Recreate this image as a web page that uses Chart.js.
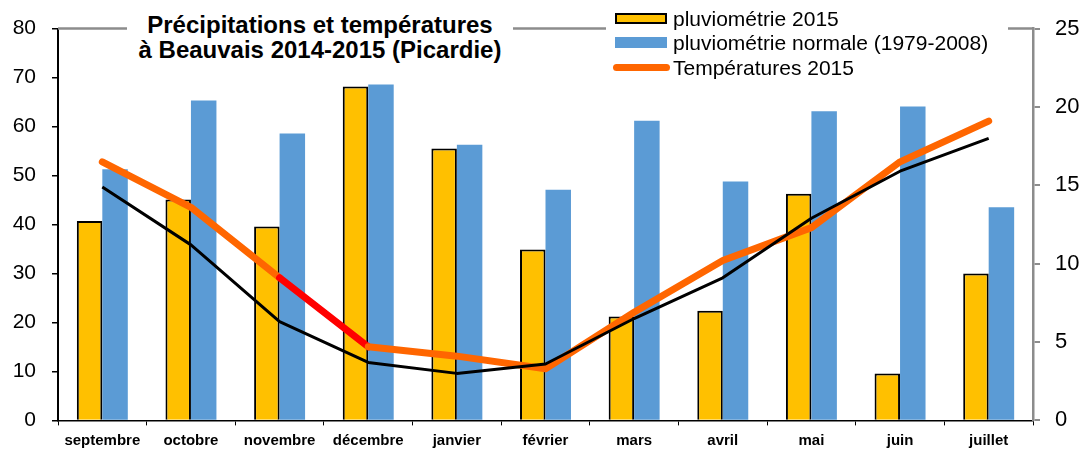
<!DOCTYPE html>
<html lang="fr">
<head>
<meta charset="utf-8">
<title>Précipitations et températures à Beauvais 2014-2015</title>
<script src="https://cdn.jsdelivr.net/npm/chart.js@4.4.1/dist/chart.umd.min.js"></script>
<style>
  html, body { margin: 0; padding: 0; background: #fff; }
  #wrap { position: relative; width: 1082px; height: 449px; font-family: Arial, "Liberation Sans", sans-serif; }
  #wrap canvas { position: absolute; left: 0; top: 0; }
  #title {
    position: absolute; left: 127px; top: 0; width: 386px; height: 64px;
    background: #fff; text-align: center; font-weight: bold; font-size: 24px;
    line-height: 25px; padding-top: 12px; box-sizing: border-box; color: #000;
  }
  #legend {
    position: absolute; left: 606px; top: 8px; width: 402px; height: 80px;
    background: #fff; font-size: 21px; color: #000;
  }
  .row { position: absolute; left: 0; height: 24px; line-height: 24px; white-space: nowrap; }
  .row span.sym { position: absolute; box-sizing: border-box; }
  .row span.txt { position: absolute; left: 67px; top: 0; }
</style>
</head>
<body>
<div id="wrap">
  <canvas id="chart" width="1082" height="449"></canvas>
  <div id="title">Précipitations et températures<br>à Beauvais 2014-2015 (Picardie)</div>
  <div id="legend"></div>
</div>
<script>
'use strict';

// ── Data ───────────────────────────────────────────────────────────────────
const MONTHS = ['septembre', 'octobre', 'novembre', 'décembre', 'janvier', 'février',
                'mars', 'avril', 'mai', 'juin', 'juillet'];

const RAIN_2015   = [40.7, 45.1, 39.6, 68.2, 55.5, 34.9, 21.2, 22.4, 46.3, 9.6, 30.0];
const RAIN_NORMAL = [51.3, 65.3, 58.6, 68.6, 56.3, 47.1, 61.2, 48.8, 63.1, 64.1, 43.5];
const TEMP_2015   = [16.5, 13.6, 9.1, 4.7, 4.1, 3.3, 6.9, 10.2, 12.3, 16.5, 19.1];
const TEMP_NORMAL = [14.9, 11.2, 6.3, 3.7, 3.0, 3.6, 6.5, 9.1, 12.9, 15.9, 18.0];

const SERIES = ['pluviométrie 2015', 'pluviométrie normale (1979-2008)', 'Températures 2015'];

const RAIN_TICKS = [0, 80, 10];   // min, max, step
const TEMP_TICKS = [0, 25, 5];

// ── Colours ────────────────────────────────────────────────────────────────
const C = {
  yellow: '#FFC000', blue: '#5B9BD5', orange: '#FF6600',
  red: '#FF0000', black: '#000000', grey: '#8C8C8C',
};
const FONT = 'Arial, "Liberation Sans", sans-serif';

// ── Top border (broken by the title / legend boxes) ────────────────────────
const topBorder = {
  id: 'topBorder',
  afterDraw(chart) {
    const { ctx, chartArea: a } = chart;
    ctx.save();
    ctx.strokeStyle = C.grey;
    ctx.lineWidth = 2.5;
    ctx.beginPath();
    ctx.moveTo(a.left, a.top);
    ctx.lineTo(a.right, a.top);
    ctx.stroke();
    ctx.restore();
  },
};

// ── Chart ──────────────────────────────────────────────────────────────────
const chart = new Chart(document.getElementById('chart'), {
  type: 'bar',
  data: {
    labels: MONTHS,
    datasets: [
      {
        type: 'line', label: 'normale', data: TEMP_NORMAL, yAxisID: 'yT', order: 0,
        borderColor: C.black, borderWidth: 3, pointRadius: 0, tension: 0,
        borderJoinStyle: 'round',
      },
      {
        type: 'line', label: SERIES[2], data: TEMP_2015, yAxisID: 'yT', order: 1,
        borderColor: C.orange, borderWidth: 7, pointRadius: 0, tension: 0,
        borderCapStyle: 'round', borderJoinStyle: 'round',
        segment: { borderColor: ctx => ctx.p0DataIndex === 2 ? C.red : C.orange },
      },
      {
        label: SERIES[0], data: RAIN_2015, yAxisID: 'yR', order: 2,
        backgroundColor: C.yellow, borderColor: C.black, borderWidth: 2,
        barPercentage: 1, categoryPercentage: 0.575,
      },
      {
        label: SERIES[1], data: RAIN_NORMAL, yAxisID: 'yR', order: 3,
        backgroundColor: C.blue, borderWidth: 0,
        barPercentage: 1, categoryPercentage: 0.575,
      },
    ],
  },
  options: {
    responsive: false,
    animation: false,
    layout: { padding: { top: 28, left: 0, right: 0, bottom: 0 } },
    plugins: { legend: { display: false }, title: { display: false }, tooltip: { enabled: false } },
    scales: {
      x: {
        afterFit: s => { s.height = 28; },
        grid: { display: true, drawOnChartArea: false, offset: true, tickLength: 5, color: C.black, lineWidth: 1 },
        border: { color: C.black, width: 1.5 },
        ticks: { color: C.black, font: { family: FONT, size: 15, weight: 'bold' }, padding: 6, maxRotation: 0, autoSkip: false },
      },
      yR: {
        position: 'left',
        min: RAIN_TICKS[0], max: RAIN_TICKS[1],
        afterFit: s => { s.width = 58; },
        grid: { drawOnChartArea: false, tickLength: 6, color: C.black, lineWidth: 1.5 },
        border: { color: C.black, width: 2 },
        ticks: { stepSize: RAIN_TICKS[2], color: C.black, font: { family: FONT, size: 21 }, padding: 16 },
      },
      yT: {
        position: 'right',
        min: TEMP_TICKS[0], max: TEMP_TICKS[1],
        afterFit: s => { s.width = 49; },
        grid: { drawOnChartArea: false, tickLength: 7, color: C.grey, lineWidth: 2 },
        border: { color: C.grey, width: 2.5 },
        ticks: { stepSize: TEMP_TICKS[2], color: C.black, font: { family: FONT, size: 22 }, padding: 15 },
      },
    },
  },
  plugins: [topBorder],
});

// ── Legend (HTML) ──────────────────────────────────────────────────────────
function renderLegend() {
  const el = document.getElementById('legend');
  const syms = [
    `left:9px;top:6px;width:52px;height:11px;background:${C.yellow};border:2px solid ${C.black};`,
    `left:9px;top:6px;width:52px;height:11px;background:${C.blue};`,
    `left:7px;top:8px;width:57px;height:7px;background:${C.orange};border-radius:4px;`,
  ];
  const tops = [7, 31, 56];
  el.innerHTML = SERIES.map((name, i) => `
    <div class="row" style="top:${tops[i] - 8}px">
      <span class="sym" style="${syms[i]}"></span><span class="txt">${name}</span>
    </div>`).join('');
}
renderLegend();
</script>
</body>
</html>
